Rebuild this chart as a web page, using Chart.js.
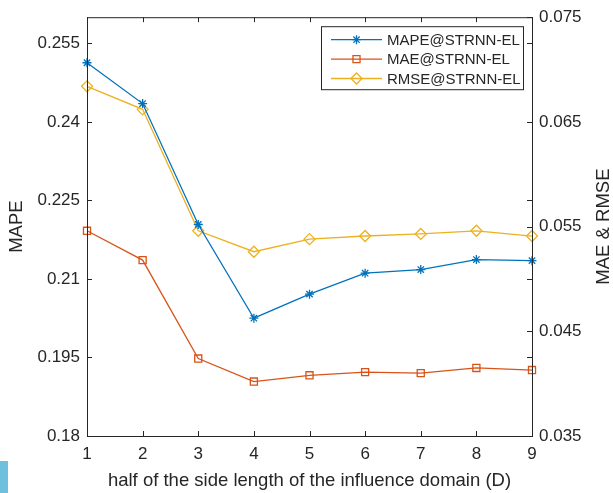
<!DOCTYPE html>
<html>
<head>
<meta charset="utf-8">
<script src="https://cdn.jsdelivr.net/npm/chart.js@4.4.0/dist/chart.umd.min.js"></script>
<style>
  html, body { margin: 0; padding: 0; background: #fff; }
  #wrap { position: relative; width: 613px; height: 493px; }
  #mark { position: absolute; left: 0; top: 461px; width: 8px; height: 32px; background: #6ec0dc; }
</style>
</head>
<body>
<div id="wrap">
  <canvas id="chart" width="613" height="493"></canvas>
  <div id="mark"></div>
</div>
<script>
// data
const domainSize = [1, 2, 3, 4, 5, 6, 7, 8, 9];
const mapeVals = [0.2513, 0.2435, 0.2204, 0.2025, 0.2071, 0.2111, 0.2118, 0.2137, 0.2135];
const maeVals  = [0.0546, 0.0518, 0.0424, 0.0402, 0.0408, 0.0411, 0.0410, 0.0415, 0.0413];
const rmseVals = [0.0684, 0.0662, 0.0546, 0.0526, 0.0538, 0.0541, 0.0543, 0.0546, 0.0541];
const leftTicks  = [0.18, 0.195, 0.21, 0.225, 0.24, 0.255];
const rightTicks = [0.035, 0.045, 0.055, 0.065, 0.075];

const axisColor = '#262626';
const fontFam = "'Liberation Sans', Arial, sans-serif";

const toPts = vals => vals.map((v, i) => ({ x: domainSize[i], y: v }));

// little marker painter for the legend
function marker(ctx, style, x, y, r) {
    ctx.beginPath();
    if (style === 'star') {
        ctx.moveTo(x - r, y); ctx.lineTo(x + r, y);
        ctx.moveTo(x, y - r); ctx.lineTo(x, y + r);
        const d = r * Math.SQRT1_2;
        ctx.moveTo(x - d, y - d); ctx.lineTo(x + d, y + d);
        ctx.moveTo(x - d, y + d); ctx.lineTo(x + d, y - d);
    } else if (style === 'rect') {
        const s = r * Math.SQRT1_2;
        ctx.rect(x - s, y - s, 2 * s, 2 * s);
    } else {
        ctx.moveTo(x - r, y); ctx.lineTo(x, y - r);
        ctx.lineTo(x + r, y); ctx.lineTo(x, y + r);
        ctx.closePath();
    }
    ctx.stroke();
}

// box, inward ticks, titles and legend like matlab
const framePlugin = {
    id: 'frame',
    afterDraw(chart) {
        const ctx = chart.ctx;
        const a = chart.chartArea;
        const sx = chart.scales.x, sy = chart.scales.y, sy1 = chart.scales.y1;
        const tl = 5;
        ctx.save();
        ctx.strokeStyle = axisColor;
        ctx.lineWidth = 1;
        ctx.strokeRect(a.left + 0.5, a.top + 0.5, a.right - a.left, a.bottom - a.top);
        ctx.beginPath();
        domainSize.forEach(v => {
            const px = Math.round(sx.getPixelForValue(v)) + 0.5;
            ctx.moveTo(px, a.bottom); ctx.lineTo(px, a.bottom - tl);
            ctx.moveTo(px, a.top); ctx.lineTo(px, a.top + tl);
        });
        leftTicks.forEach(v => {
            const py = Math.round(sy.getPixelForValue(v)) + 0.5;
            ctx.moveTo(a.left, py); ctx.lineTo(a.left + tl, py);
            ctx.moveTo(a.right, py); ctx.lineTo(a.right - tl, py);
        });
        rightTicks.forEach(v => {
            const py = Math.round(sy1.getPixelForValue(v)) + 0.5;
            ctx.moveTo(a.right, py); ctx.lineTo(a.right - tl, py);
        });
        ctx.stroke();

        // titles
        ctx.fillStyle = axisColor;
        ctx.font = '18.5px ' + fontFam;
        ctx.textAlign = 'center';
        ctx.textBaseline = 'middle';
        ctx.fillText('half of the side length of the influence domain (D)', (a.left + a.right) / 2, 481);
        const midY = (a.top + a.bottom) / 2;
        ctx.save();
        ctx.translate(17, midY);
        ctx.rotate(-Math.PI / 2);
        ctx.fillText('MAPE', 0, 0);
        ctx.restore();
        ctx.save();
        ctx.translate(604, midY);
        ctx.rotate(-Math.PI / 2);
        ctx.fillText('MAE & RMSE', 0, 0);
        ctx.restore();

        // legend
        const lx = a.right - 211, ly = a.top + 9, lw = 202, lh = 63;
        ctx.fillStyle = '#fff';
        ctx.fillRect(lx, ly, lw, lh);
        ctx.strokeStyle = axisColor;
        ctx.strokeRect(lx + 0.5, ly + 0.5, lw, lh);
        ctx.font = '15px ' + fontFam;
        ctx.textAlign = 'left';
        chart.data.datasets.forEach((ds, i) => {
            const ry = ly + 13.5 + i * 19.4;
            ctx.strokeStyle = ds.borderColor;
            ctx.lineWidth = 1.3;
            ctx.beginPath();
            ctx.moveTo(lx + 10, ry); ctx.lineTo(lx + 61, ry);
            ctx.stroke();
            marker(ctx, ds.pointStyle, lx + 35.5, ry, ds.pointRadius);
            ctx.fillStyle = axisColor;
            ctx.fillText(ds.label, lx + 66, ry + 1);
        });
        ctx.restore();
    }
};

const ctx = document.getElementById('chart').getContext('2d');
const chart = new Chart(ctx, {
    type: 'line',
    data: {
        datasets: [
            {
                label: 'MAPE@STRNN-EL',
                data: toPts(mapeVals),
                yAxisID: 'y',
                borderColor: '#0072BD',
                backgroundColor: 'rgba(0,0,0,0)',
                borderWidth: 1.3,
                pointStyle: 'star',
                pointRadius: 4.5,
                pointBorderWidth: 1.3,
                tension: 0,
                clip: false
            },
            {
                label: 'MAE@STRNN-EL',
                data: toPts(maeVals),
                yAxisID: 'y1',
                borderColor: '#D95319',
                backgroundColor: 'rgba(0,0,0,0)',
                borderWidth: 1.3,
                pointStyle: 'rect',
                pointRadius: 5,
                pointBorderWidth: 1.3,
                tension: 0,
                clip: false
            },
            {
                label: 'RMSE@STRNN-EL',
                data: toPts(rmseVals),
                yAxisID: 'y1',
                borderColor: '#EDB120',
                backgroundColor: 'rgba(0,0,0,0)',
                borderWidth: 1.3,
                pointStyle: 'rectRot',
                pointRadius: 5.5,
                pointBorderWidth: 1.3,
                tension: 0,
                clip: false
            }
        ]
    },
    options: {
        responsive: false,
        animation: false,
        layout: { padding: { top: 16, left: 0, right: 0, bottom: 0 } },
        plugins: { legend: { display: false }, tooltip: { enabled: false } },
        scales: {
            x: {
                type: 'linear',
                min: 1, max: 9,
                afterBuildTicks: s => { s.ticks = domainSize.map(v => ({ value: v })); },
                afterFit: s => { s.height = 57; },
                grid: { display: false, drawTicks: false },
                border: { display: false },
                ticks: { color: axisColor, font: { family: fontFam, size: 17 }, padding: 8, callback: v => String(v), maxRotation: 0 }
            },
            y: {
                position: 'left',
                min: 0.18, max: 0.26,
                afterBuildTicks: s => { s.ticks = leftTicks.map(v => ({ value: v })); },
                afterFit: s => { s.width = 87; },
                grid: { display: false, drawTicks: false },
                border: { display: false },
                ticks: { color: axisColor, font: { family: fontFam, size: 17 }, padding: 7, callback: v => String(v) }
            },
            y1: {
                position: 'right',
                min: 0.035, max: 0.075,
                afterBuildTicks: s => { s.ticks = rightTicks.map(v => ({ value: v })); },
                afterFit: s => { s.width = 81; },
                grid: { display: false, drawTicks: false },
                border: { display: false },
                ticks: { color: axisColor, font: { family: fontFam, size: 17 }, padding: 7, callback: v => String(v) }
            }
        }
    },
    plugins: [framePlugin]
});
</script>
</body>
</html>
